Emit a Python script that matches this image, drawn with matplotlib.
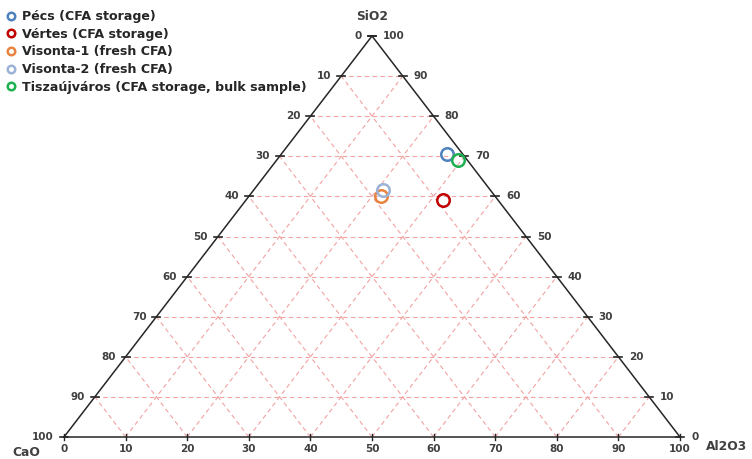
import matplotlib.pyplot as plt

# sample compositions (wt %)
samples = ["Pécs (CFA storage)", "Vértes (CFA storage)", "Visonta-1 (fresh CFA)",
           "Visonta-2 (fresh CFA)", "Tiszaújváros (CFA storage, bulk sample)"]
sio2 = [70.5, 59.0, 60.0, 61.5, 69.0]
al2o3 = [27.0, 32.0, 21.5, 21.0, 29.5]
cao = [2.5, 9.0, 18.5, 17.5, 1.5]
colors = ["#4F81BD", "#C00000", "#E8843F", "#9BB3D6", "#1DB04F"]

ticks = list(range(0, 101, 10))


def tern(si, al):
    # corner CaO -> (0,0), Al2O3 -> (1,0), SiO2 -> (0.5,1)
    return al / 100.0 + si / 200.0, si / 100.0


W, H = 752, 459
fig = plt.figure(figsize=(W / 100, H / 100), dpi=100)
ax = fig.add_axes([64 / W, (H - 437) / H, 616 / W, 401 / H])
ax.set_xlim(0, 1)
ax.set_ylim(0, 1)
ax.axis('off')

grid_kw = dict(color='#F2A2A2', lw=0.8, ls=(0, (4, 3)), zorder=1)
for v in ticks[1:-1]:
    # constant SiO2
    x0, y0 = tern(v, 0)
    x1, y1 = tern(v, 100 - v)
    ax.plot([x0, x1], [y0, y1], **grid_kw)
    # constant Al2O3
    x0, y0 = tern(0, v)
    x1, y1 = tern(100 - v, v)
    ax.plot([x0, x1], [y0, y1], **grid_kw)
    # constant CaO
    x0, y0 = tern(0, 100 - v)
    x1, y1 = tern(100 - v, 0)
    ax.plot([x0, x1], [y0, y1], **grid_kw)

# triangle frame
ax.plot([0, 1, 0.5, 0], [0, 0, 1, 0], color='#262626', lw=1.1, zorder=2, clip_on=False)

lab_kw = dict(fontsize=7.5, fontweight='bold', color='#404040', clip_on=False)
dx = 1 / 616
dy = 1 / 401
for v in ticks:
    # bottom axis: Al2O3
    x, y = tern(0, v)
    ax.plot([x, x], [y - 3 * dy, y + 3 * dy], color='#262626', lw=1, clip_on=False)
    ax.text(x, y - 12 * dy, str(v), ha='center', va='center', **lab_kw)
    # left axis: CaO (0 at top)
    x, y = tern(100 - v, 0)
    ax.plot([x - 4 * dx, x + 4 * dx], [y, y], color='#262626', lw=1.2, clip_on=False)
    ax.text(x - 10 * dx, y, str(v), ha='right', va='center', **lab_kw)
    # right axis: SiO2
    x, y = tern(v, 100 - v)
    ax.plot([x - 4 * dx, x + 4 * dx], [y, y], color='#262626', lw=1.2, clip_on=False)
    ax.text(x + 11 * dx, y, str(v), ha='left', va='center', **lab_kw)

ax_kw = dict(fontsize=8.8, fontweight='bold', color='#404040', clip_on=False)
ax.text(0.5, 1 + 20 * dy, "SiO2", ha='center', va='center', **ax_kw)
ax.text(-52 * dx, -15 * dy, "CaO", ha='left', va='center', **ax_kw)
ax.text(1 + 26 * dx, -10 * dy, "Al2O3", ha='left', va='center', **ax_kw)

handles = []
for i in range(len(samples)):
    x, y = tern(sio2[i], al2o3[i])
    h, = ax.plot(x, y, 'o', ms=9, mfc='none', mec=colors[i], mew=1.8,
                 zorder=5, label=samples[i])
    handles.append(h)

leg = fig.legend(handles=handles, loc='upper left', bbox_to_anchor=(-0.002, 0.994),
                 frameon=False, prop=dict(size=9.1, weight='bold'), handlelength=0.8,
                 handletextpad=0.45, labelspacing=0.36, markerscale=0.6,
                 borderaxespad=0.2)
for t in leg.get_texts():
    t.set_color('#262626')

fig.savefig('out.png', dpi=100)
